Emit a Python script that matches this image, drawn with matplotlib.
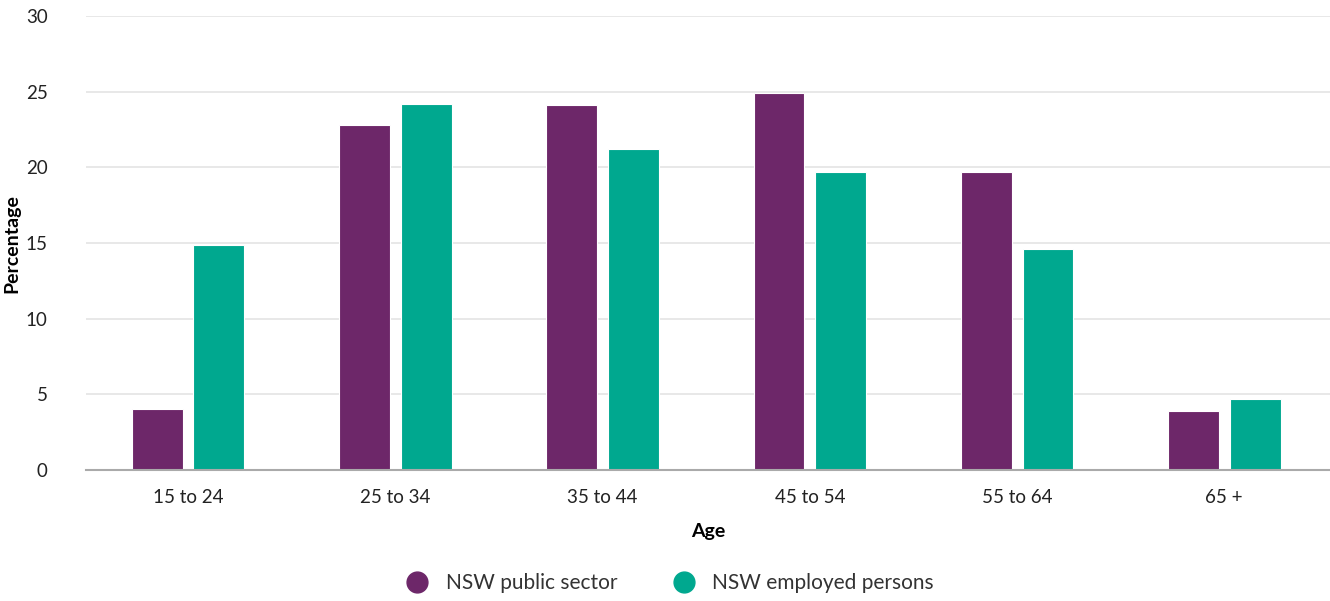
import numpy as np
import matplotlib.pyplot as plt
from matplotlib.lines import Line2D

plt.rcParams['font.family'] = ['Lato', 'DejaVu Sans']

ages = ['15 to 24', '25 to 34', '35 to 44', '45 to 54', '55 to 64', '65 +']
public_sector = [4.0, 22.8, 24.1, 24.9, 19.7, 3.9]
employed_persons = [14.9, 24.2, 21.2, 19.7, 14.6, 4.7]
series_names = ['NSW public sector', 'NSW employed persons']
colors = ['#6D2769', '#00A88F']

fig = plt.figure(figsize=(13.3, 6.01), dpi=100)
ax = fig.add_axes([0.065, 0.218, 0.935, 0.755])

x = np.arange(len(ages))
width = 0.245
ax.bar(x - 0.149, public_sector, width, color=colors[0], edgecolor='white', linewidth=0.8, zorder=3)
ax.bar(x + 0.149, employed_persons, width, color=colors[1], edgecolor='white', linewidth=0.8, zorder=3)

ax.set_xlim(-0.49, 5.51)
ax.set_ylim(0, 30)
ax.set_yticks(range(0, 31, 5))
ax.set_xticks(x)
ax.set_xticklabels(ages)
ax.yaxis.grid(True, color='#e4e4e4', linewidth=1.2, zorder=0)
ax.set_axisbelow(True)

for side in ['top', 'right', 'left']:
    ax.spines[side].set_visible(False)
ax.spines['bottom'].set_color('#aaaaaa')
ax.spines['bottom'].set_linewidth(1.5)
ax.spines['bottom'].set_zorder(4)

ax.tick_params(axis='both', length=0, labelsize=13.5, colors='#222222')
ax.tick_params(axis='x', pad=14)
ax.tick_params(axis='y', pad=28)

ax.set_xlabel('Age', fontsize=14, fontweight='bold', labelpad=12)
ax.set_ylabel('Percentage', fontsize=14, fontweight='bold', labelpad=4)

handles = [Line2D([], [], marker='o', linestyle='', markersize=15, color=c) for c in colors]
fig.legend(handles, series_names, loc='lower center', bbox_to_anchor=(0.5, -0.018), ncol=2,
           frameon=False, fontsize=15, handletextpad=0.35, columnspacing=2.2, labelcolor='#333333')

fig.savefig('out.png', dpi=100)
